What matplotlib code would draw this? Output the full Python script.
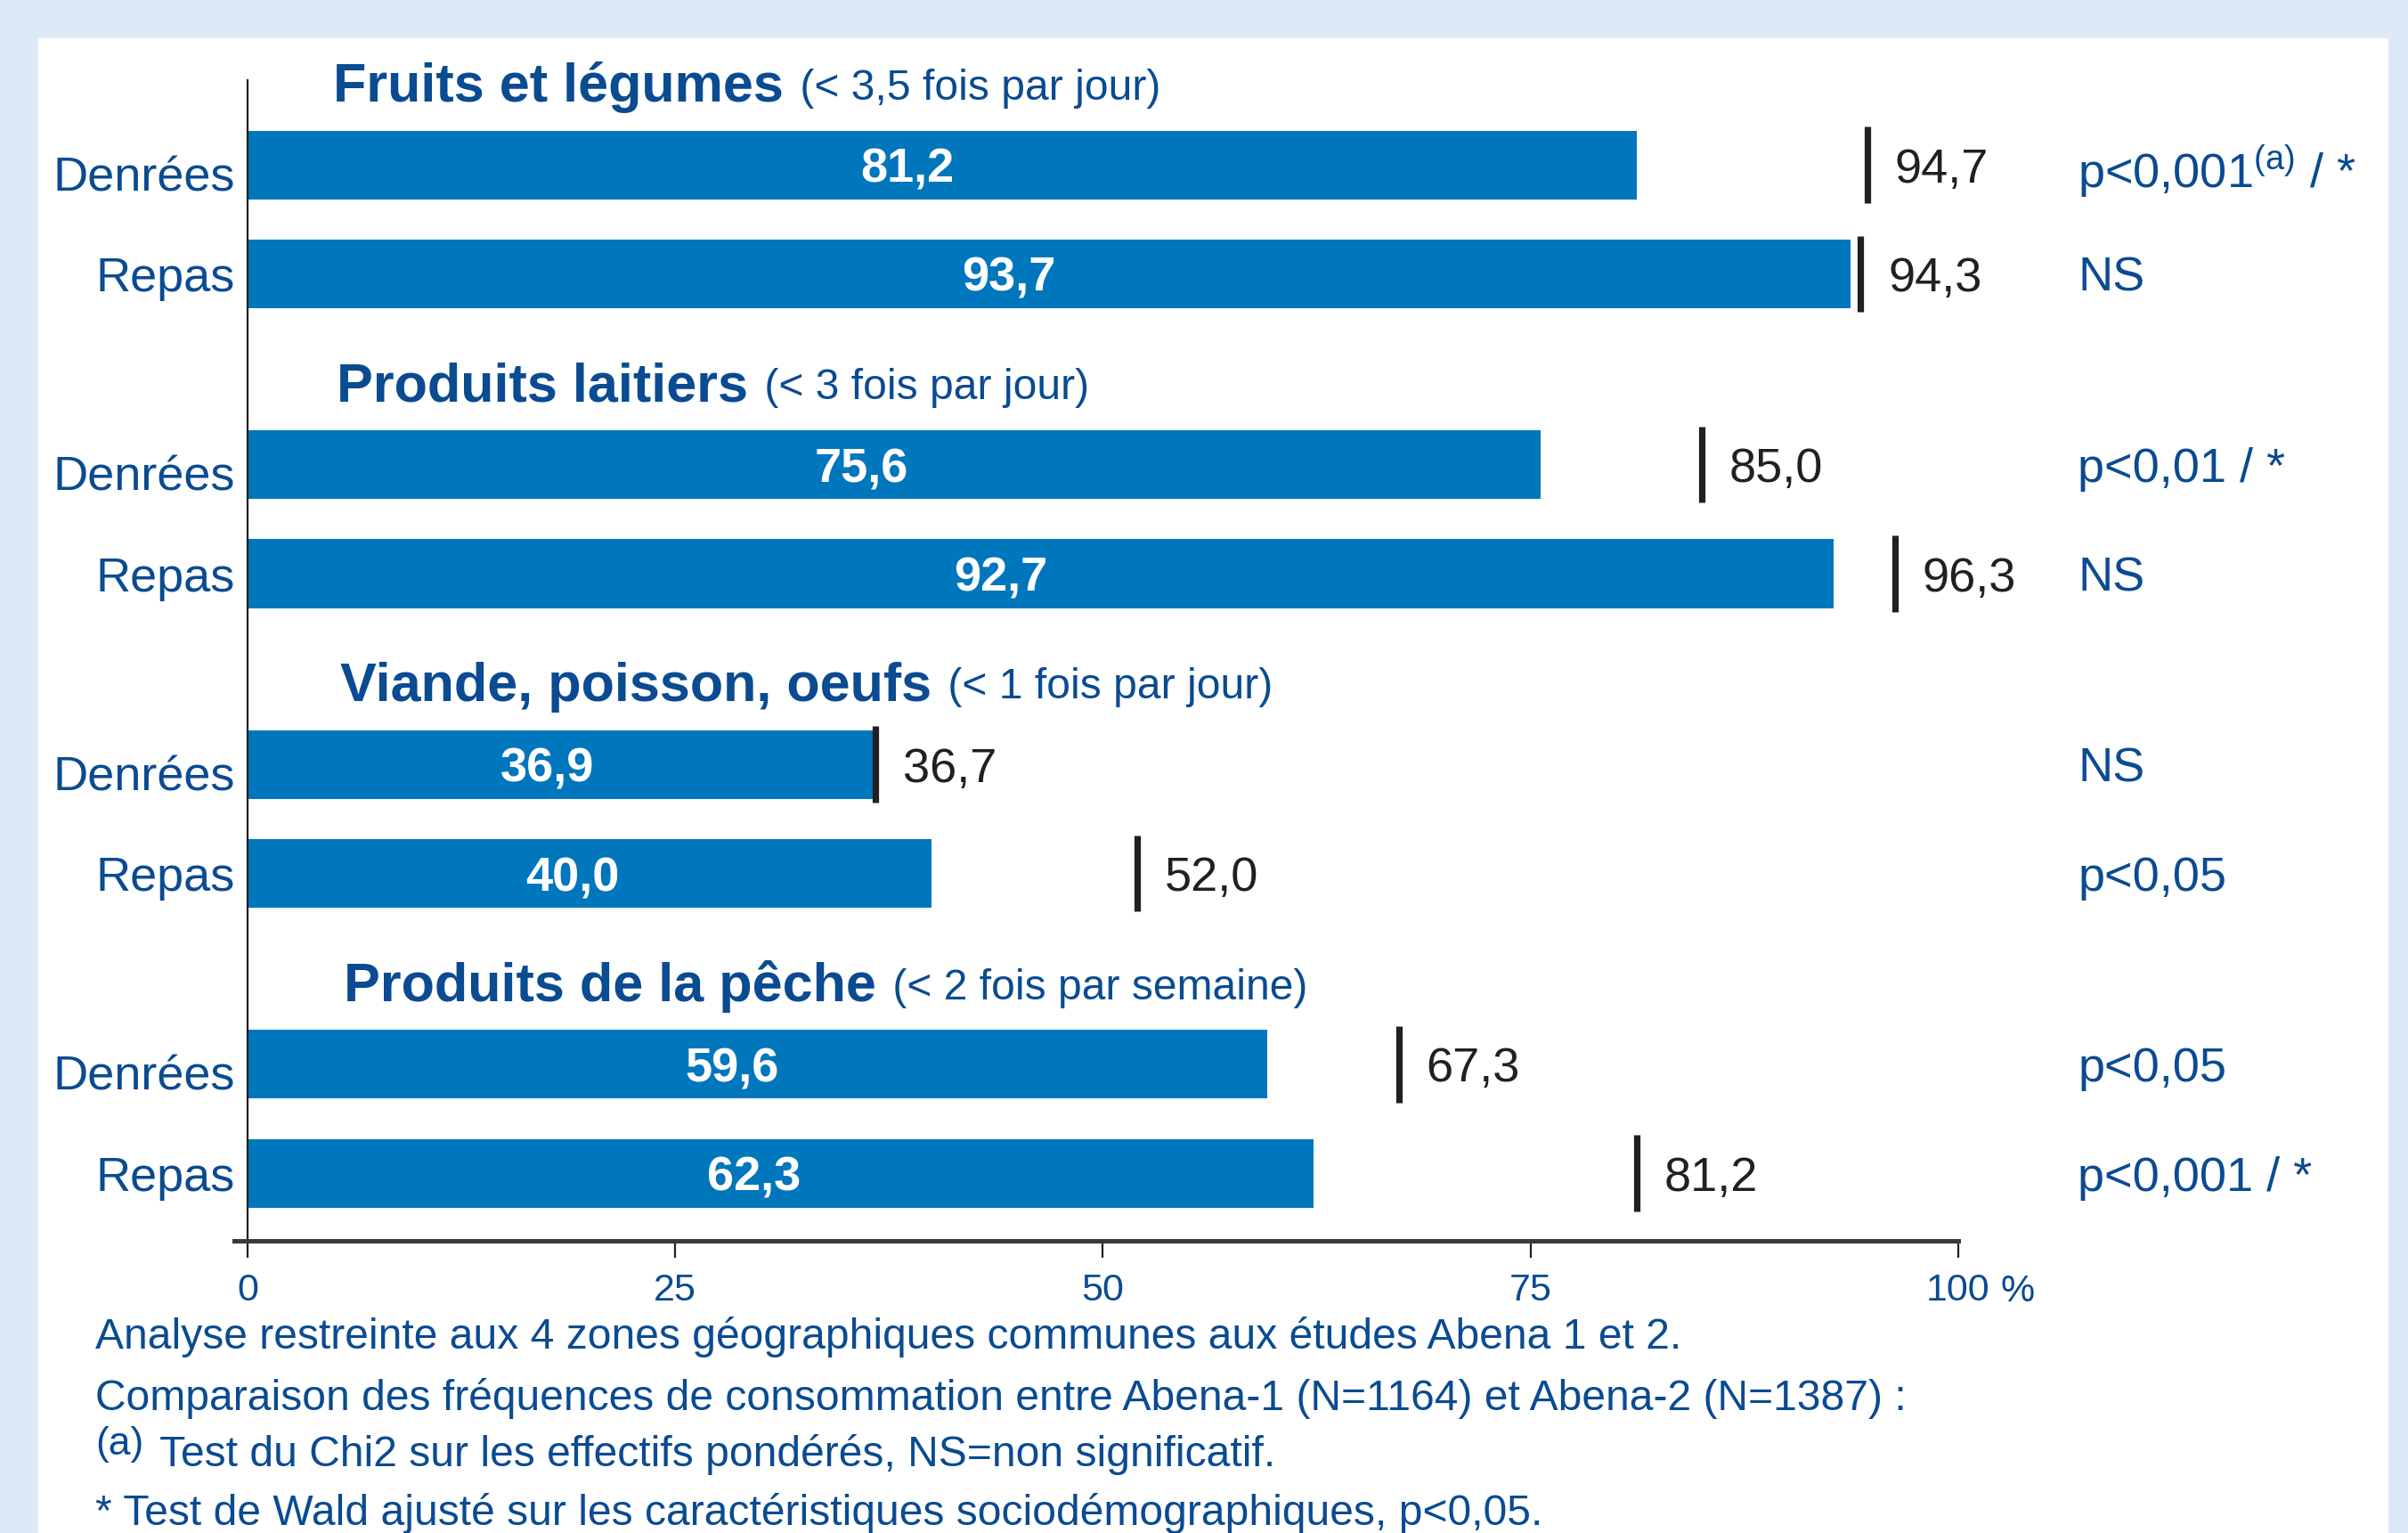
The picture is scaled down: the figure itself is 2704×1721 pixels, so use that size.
import matplotlib
matplotlib.use('Agg')
import matplotlib.pyplot as plt
from matplotlib.patches import Rectangle
from matplotlib.transforms import ScaledTranslation

plt.rcParams['font.family'] = ['Liberation Sans', 'DejaVu Sans']
plt.rcParams['mathtext.fontset'] = 'custom'
plt.rcParams['mathtext.rm'] = 'Liberation Sans'

# data
groupes = ['Fruits et légumes', 'Produits laitiers', 'Viande, poisson, oeufs', 'Produits de la pêche']
freq = ['(< 3,5 fois par jour)', '(< 3 fois par jour)', '(< 1 fois par jour)', '(< 2 fois par semaine)']
cats = ['Denrées', 'Repas']
abena2 = [81.2, 93.7, 75.6, 92.7, 36.9, 40.0, 59.6, 62.3]
abena1 = [94.7, 94.3, 85.0, 96.3, 36.7, 52.0, 67.3, 81.2]
pval = ['p<0,001$^{\\mathrm{(a)}}$ / *', 'NS', 'p<0,01 / *', 'NS', 'NS', 'p<0,05', 'p<0,05', 'p<0,001 / *']
xticks = [0, 25, 50, 75, 100]
notes = ['Analyse restreinte aux 4 zones géographiques communes aux études Abena 1 et 2.',
         'Comparaison des fréquences de consommation entre Abena-1 (N=1164) et Abena-2 (N=1387) :',
         'Test du Chi2 sur les effectifs pondérés, NS=non significatif.',
         '* Test de Wald ajusté sur les caractéristiques sociodémographiques, p<0,05.']

bleu = '#0076bd'
marine = '#0a4b91'
noir = '#231f20'

fig = plt.figure(figsize=(13.52, 8.605), dpi=200)
fig.patch.set_facecolor('#dde9f6')
fig.patches.append(Rectangle((0.0159, 0), 0.976, 0.975, transform=fig.transFigure,
                             facecolor='white', edgecolor='none', zorder=-5))

ax = fig.add_axes([0.1028, 0.1906, 0.7104, 0.7573])
ax.set_facecolor('none')
ax.set_zorder(2)

ypos = []
for g in range(len(groupes)):
    ypos += [2.75*g, 2.75*g + 1]
labels = cats * len(groupes)

ax.barh(ypos, abena2, height=0.63, color=bleu, zorder=2)
for y, v2, v1, p in zip(ypos, abena2, abena1, pval):
    ax.text(v2*0.475, y, ('%.1f' % v2).replace('.', ','), color='white', fontsize=19.5,
            fontweight='bold', ha='center', va='center_baseline', zorder=3)
    ax.plot([v1, v1], [y - 0.35, y + 0.35], color=noir, lw=2.6, zorder=4, solid_capstyle='butt')
    ax.text(v1 + 1.6, y, ('%.1f' % v1).replace('.', ','), color=noir, fontsize=19.5,
            ha='left', va='center_baseline')
    ax.text(107, y, p, color=marine, fontsize=19.5, ha='left', va='center_baseline')

for g in range(len(groupes)):
    t = ax.text(5.0 + 0.2*g, 2.75*g - 0.71, groupes[g], color=marine, fontsize=22,
                fontweight='bold', ha='left', va='center')
    ax.annotate(' ' + freq[g], xy=(1, 0), xycoords=t, xytext=(2, 2), textcoords='offset points',
                color=marine, fontsize=17.3, ha='left', va='bottom')

ax.set_xlim(0, 100)
ax.set_ylim(9.87, -0.78)
ax.set_yticks(ypos)
ax.set_yticklabels(labels, fontsize=19.5, color=marine, va='center_baseline')
ax.tick_params(axis='y', length=0, pad=5)
# les libellés "Denrées" sont un peu plus bas dans l'original
for lbl in ax.get_yticklabels()[::2]:
    lbl.set_transform(lbl.get_transform() + ScaledTranslation(0, -3.5/72, fig.dpi_scale_trans))
ax.set_xticks(xticks)
ax.set_xticklabels([str(x) for x in xticks], fontsize=15.5, color=marine)
ax.tick_params(axis='x', length=7, width=0.8, color=noir, pad=6)
ax.annotate('%', xy=(100, 0), xycoords=('data', 'axes fraction'), xytext=(17, -13.3),
            textcoords='offset points', fontsize=15.5, color=marine, ha='left', va='top')

ax.spines['top'].set_visible(False)
ax.spines['right'].set_visible(False)
ax.spines['left'].set_color(noir)
ax.spines['left'].set_linewidth(0.8)
ax.spines['bottom'].set_color('#3a3a3a')
ax.spines['bottom'].set_linewidth(1.8)
ax.spines['bottom'].set_bounds(-0.8, 100)

ny = [0.128, 0.088, 0.051, 0.0128]
nx = [0.0396, 0.0396, 0.0663, 0.0396]
for n, x, y in zip(notes, nx, ny):
    fig.text(x, y, n, fontsize=17.3, color=marine, ha='left', va='center')
fig.text(0.0396, 0.058, '(a)', fontsize=16, color=marine, ha='left', va='center')

fig.savefig('out.png', dpi=200, facecolor=fig.get_facecolor())
